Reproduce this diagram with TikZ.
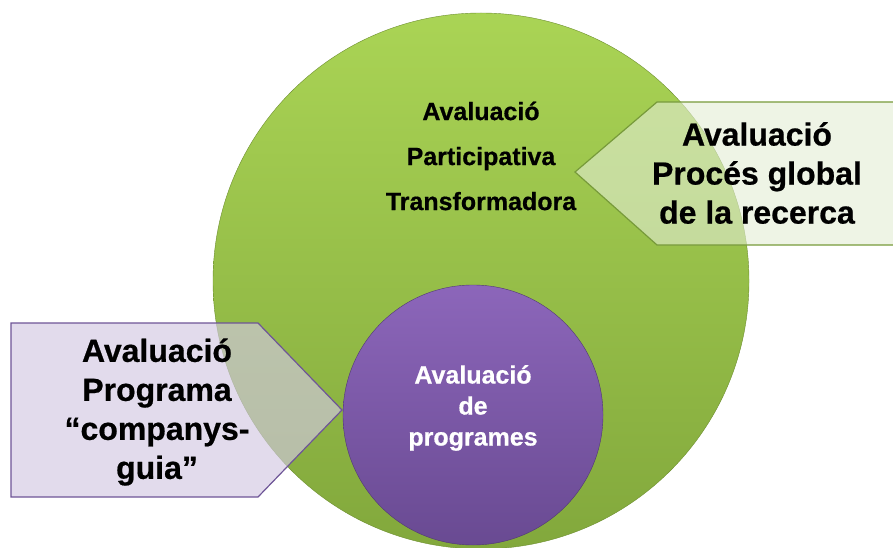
\documentclass[tikz,border=0pt]{standalone}
\usepackage{fontspec}
\setmainfont[BoldFeatures={FakeBold=0.6}]{Liberation Sans}
\definecolor{grtop}{HTML}{AAD455}
\definecolor{grbot}{HTML}{82A83C}
\definecolor{grline}{HTML}{6E8F30}
\definecolor{putop}{HTML}{8C66BA}
\definecolor{pubot}{HTML}{694A92}
\definecolor{puline}{HTML}{503775}
\definecolor{boxgr}{HTML}{E3EDD4}
\definecolor{boxgrline}{HTML}{779A3A}
\definecolor{boxpu}{HTML}{D2C8E2}
\definecolor{boxpuline}{HTML}{6E5597}
\tikzset{
  bigtext/.style={align=center,font=\bfseries\fontsize{32}{39}\selectfont},
  midtext/.style={align=center,font=\bfseries\fontsize{25}{45}\selectfont},
  smalltext/.style={align=center,text=white,font=\bfseries\fontsize{25}{31}\selectfont}
}
\begin{document}
\begin{tikzpicture}[x=1pt,y=1pt]
\useasboundingbox (0,0) rectangle (893,547);
% circles
\draw[grline,top color=grtop,bottom color=grbot] (481,266) circle (268);
\coordinate (big) at (481,266);
% right box
\draw[boxgrline,fill=boxgr,fill opacity=0.6,line width=1.2pt]
  (575,375) -- (657,445) -- (905,445) -- (905,302) -- (657,302) -- cycle;
\draw[puline,top color=putop,bottom color=pubot] (473,132) circle (130);
\coordinate (small) at (473,132);
% left box
\draw[boxpuline,fill=boxpu,fill opacity=0.65,line width=1.2pt]
  (11,224) -- (258,224) -- (342,137) -- (258,50) -- (11,50) -- cycle;
% texts
\node[midtext] (bigtxt) at (481,391) {Avaluació\\Participativa\\Transformadora};
\node[smalltext] (smalltxt) at (473,139) {Avaluació\\de\\programes};
\node[bigtext] (righttxt) at (757,374) {Avaluació\\Procés global\\de la recerca};
\node[bigtext] (lefttxt) at (157,135) {Avaluació\\Programa\\“companys-\\guia”};
\end{tikzpicture}
\end{document}
